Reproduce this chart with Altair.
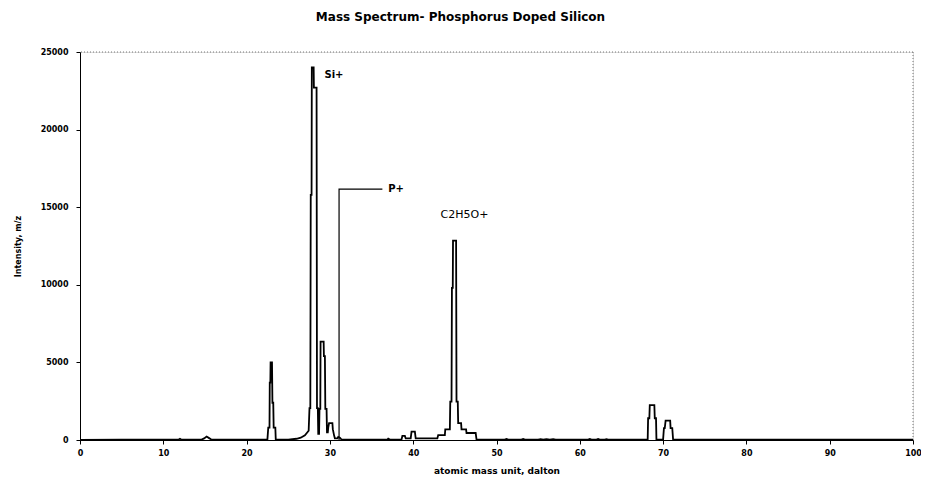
import altair as alt
import pandas as pd

# Spectrum outline (mass in amu, intensity)
masses = [
    0.0, 5.0, 10.0, 11.8, 12.0, 12.2, 14.6, 14.9, 15.2, 15.5, 15.8, 18.0, 20.0, 22.0,
    22.5, 22.6, 22.75, 22.78, 22.85, 22.88, 23.05, 23.1, 23.2, 23.25, 23.45, 23.5,
    24.0, 25.0, 26.0, 26.5, 27.0, 27.3, 27.45,
    27.55, 27.65, 27.7, 27.8, 27.83, 28.05, 28.08, 28.4, 28.45, 28.55,
    28.6, 28.7, 28.75, 28.85, 28.88, 29.25, 29.28, 29.4, 29.45, 29.6, 29.65,
    29.75, 29.8, 29.9, 30.3, 30.35, 30.5, 30.6, 30.9, 31.0, 31.2, 31.4,
    33.0, 35.0, 36.9, 37.0, 37.2, 38.0,
    38.6, 38.7, 39.0, 39.1, 39.7, 39.8, 40.2, 40.3, 40.6, 41.6, 42.9,
    43.0, 43.8, 43.85, 44.4, 44.45, 44.6, 44.65, 44.75, 44.78, 45.15, 45.2, 45.35,
    45.4, 45.75, 45.8, 46.35, 46.4, 47.5, 47.6, 49.0,
    51.0, 51.2, 51.4, 53.0, 53.2, 53.4, 55.0, 55.3, 55.6, 56.0, 56.4, 56.8, 57.1,
    60.0, 61.0, 61.2, 61.4, 62.0, 62.2, 62.4, 63.0, 63.2, 63.4, 66.0, 68.0,
    68.15, 68.2, 68.35, 68.4, 68.95, 69.0, 69.15, 69.2, 69.4, 69.8, 70.0, 70.1,
    70.2, 70.3, 70.85, 70.9, 71.1, 71.2, 71.5, 72.5, 75.0, 80.0, 90.0, 100.0,
]
intensity = [
    0, 20, 20, 20, 80, 20, 30, 100, 220, 120, 20, 20, 30, 20,
    40, 800, 800, 3700, 3700, 5000, 5000, 2400, 2400, 800, 800, 40,
    30, 20, 80, 150, 300, 500, 600,
    2060, 2060, 15800, 15800, 24000, 24000, 22700, 22700, 2060, 2060,
    400, 400, 2000, 2000, 6340, 6340, 5400, 5400, 2000, 2000, 500,
    500, 800, 1090, 1090, 700, 300, 100, 100, 200, 150, 30,
    20, 30, 30, 90, 30, 20,
    40, 260, 260, 100, 100, 540, 540, 100, 100, 100, 100,
    320, 320, 690, 690, 2470, 2470, 9800, 9800, 12840, 12840, 2470, 2470,
    1090, 1090, 690, 690, 450, 450, 40, 20,
    20, 70, 20, 20, 70, 20, 20, 60, 20, 60, 20, 60, 20,
    20, 20, 60, 20, 20, 60, 20, 20, 50, 20, 20, 20,
    30, 1400, 1400, 2250, 2250, 1400, 1400, 30, 30, 30, 30, 770,
    770, 1245, 1245, 770, 770, 30, 30, 20, 20, 20, 20, 20,
]

# Annotation leader line for P+ (mass, intensity)
leader_mass = [31.1, 31.1, 36.3]
leader_int = [0, 16170, 16170]

# Labels
label_text = ["Si+", "P+", "C2H5O+"]
label_mass = [29.35, 37.0, 46.15]
label_int = [23520, 16170, 14500]
label_align = ["left", "left", "center"]

x_ticks = [0, 10, 20, 30, 40, 50, 60, 70, 80, 90, 100]
y_ticks = [0, 5000, 10000, 15000, 20000, 25000]

spec = pd.DataFrame({"mass": masses, "intensity": intensity, "order": range(len(masses))})
lead = pd.DataFrame({"mass": leader_mass, "intensity": leader_int, "order": range(3)})
labs = pd.DataFrame({"text": label_text, "mass": label_mass, "intensity": label_int, "align": label_align})

FONT = "DejaVu Sans"

xscale = alt.Scale(domain=[0, 100], nice=False, zero=False)
yscale = alt.Scale(domain=[0, 25000], nice=False)

x_enc = alt.X("mass:Q", scale=xscale,
              axis=alt.Axis(title="atomic mass unit, dalton", values=x_ticks, grid=False, format="d",
                            tickSize=4, labelPadding=5, titlePadding=9,
                            labelFont=FONT, labelFontSize=8, labelFontWeight="bold",
                            titleFont=FONT, titleFontSize=9, titleFontWeight="bold",
                            domainColor="black", tickColor="black", labelColor="black",
                            titleColor="black", labelFlush=False))
y_enc = alt.Y("intensity:Q", scale=yscale,
              axis=alt.Axis(title="Intensity, m/z", values=y_ticks, grid=False, format="d",
                            tickSize=4, labelPadding=8, titlePadding=18,
                            labelFont=FONT, labelFontSize=8, labelFontWeight="bold",
                            titleFont=FONT, titleFontSize=8, titleFontWeight="bold",
                            domainColor="black", tickColor="black", labelColor="black",
                            titleColor="black"))

line = alt.Chart(spec).mark_line(color="black", strokeWidth=1.8, interpolate="linear").encode(
    x=x_enc, y=y_enc, order="order:Q")

leader = alt.Chart(lead).mark_line(color="black", strokeWidth=1.2).encode(
    x="mass:Q", y="intensity:Q", order="order:Q")

labels_left = alt.Chart(labs[labs["align"] == "left"]).mark_text(
    align="left", baseline="middle", font=FONT, fontSize=10, fontWeight="bold", color="black"
).encode(x="mass:Q", y="intensity:Q", text="text:N")

labels_center = alt.Chart(labs[labs["align"] == "center"]).mark_text(
    align="center", baseline="middle", font=FONT, fontSize=11, color="black"
).encode(x="mass:Q", y="intensity:Q", text="text:N")

top_rule = alt.Chart(pd.DataFrame({"y": [25000]})).mark_rule(
    color="#777", strokeDash=[1, 2], strokeWidth=1).encode(y="y:Q")
right_rule = alt.Chart(pd.DataFrame({"x": [100]})).mark_rule(
    color="#777", strokeDash=[1, 2], strokeWidth=1).encode(x="x:Q")

chart = alt.layer(top_rule, right_rule, line, leader, labels_left, labels_center).properties(
    width=833, height=388,
    title=alt.TitleParams("Mass Spectrum- Phosphorus Doped Silicon", font=FONT, fontSize=12,
                          fontWeight="bold", color="black", offset=24, dx=-36),
    autosize=alt.AutoSizeParams(type="none"),
    padding={"left": 72, "top": 44, "right": 8, "bottom": 37},
).configure_view(stroke=None).configure(background="white")

chart.save("out.html", embed_options={"renderer": "svg", "actions": False})
